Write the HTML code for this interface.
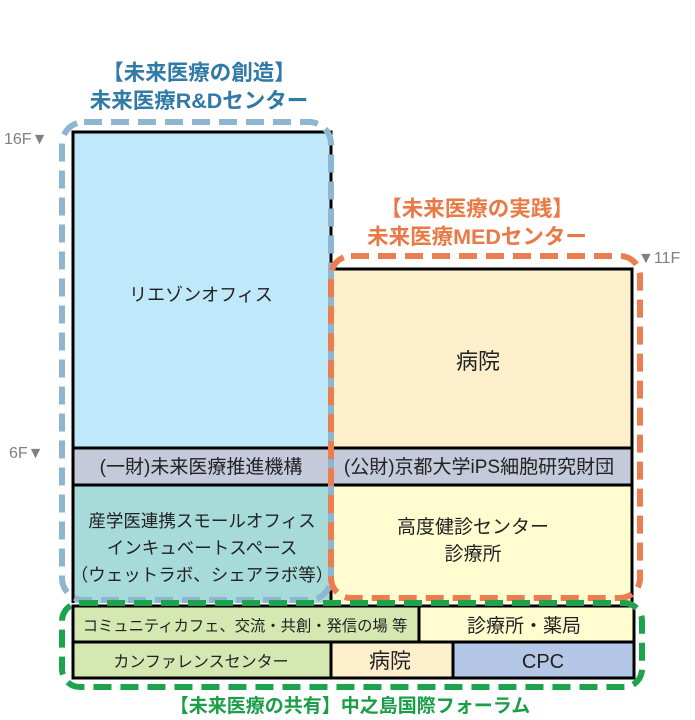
<!DOCTYPE html>
<html><head><meta charset="utf-8"><style>
html,body{margin:0;padding:0;background:#fff;}
svg{display:block;}
text{font-family:"Liberation Sans","Noto Sans CJK JP",sans-serif;}
</style></head><body>
<svg width="695" height="720" viewBox="0 0 695 720" xmlns="http://www.w3.org/2000/svg">
<rect x="73" y="132" width="258" height="316" fill="#bfe9fa"/>
<rect x="73" y="448" width="258" height="37" fill="#c5cadb"/>
<rect x="73" y="485" width="258" height="118" fill="#a7dbd9"/>
<rect x="331" y="269" width="301" height="179" fill="#fdefcc"/>
<rect x="331" y="448" width="301" height="37" fill="#c5cadb"/>
<rect x="331" y="485" width="301" height="118" fill="#fffdd0"/>
<rect x="73" y="606" width="346" height="36" fill="#d6e8b2"/>
<rect x="419" y="606" width="215" height="36" fill="#fffdd0"/>
<rect x="73" y="642" width="258" height="36" fill="#d6e8b2"/>
<rect x="331" y="642" width="122" height="36" fill="#fdefcc"/>
<rect x="453" y="642" width="181" height="36" fill="#b4c7e7"/>
<g stroke="#000" stroke-width="3" fill="none">
<path d="M73 603 V132 H331 V603"/>
<path d="M331 269 H632 V603"/>
<line x1="73" y1="448" x2="632" y2="448"/>
<line x1="73" y1="485" x2="632" y2="485"/>
<rect x="73" y="606" width="561" height="72"/>
<line x1="73" y1="642" x2="634" y2="642"/>
<line x1="419" y1="606" x2="419" y2="642"/>
<line x1="331" y1="642" x2="331" y2="678"/>
<line x1="453" y1="642" x2="453" y2="678"/>
</g>
<rect x="62" y="122" width="269" height="478" rx="22" fill="none" stroke="#8fb6d0" stroke-width="6" stroke-dasharray="18,9"/>
<rect x="331" y="256" width="309" height="342" rx="20" fill="none" stroke="#ea7e50" stroke-width="6" stroke-dasharray="18,9"/>
<rect x="62" y="603" width="580" height="84" rx="18" fill="none" stroke="#1ea34d" stroke-width="6" stroke-dasharray="18,9"/>
<g font-weight="bold" font-size="21.5" text-anchor="middle">
<text x="199" y="80" fill="#2f7aa6">【未来医療の創造】</text>
<text x="199" y="108" fill="#2f7aa6">未来医療R&amp;Dセンター</text>
<text x="477" y="216" fill="#ea7a45">【未来医療の実践】</text>
<text x="477" y="244" fill="#ea7a45">未来医療MEDセンター</text>
<text x="350" y="712" font-size="19" fill="#1a9e48">【未来医療の共有】中之島国際フォーラム</text>
</g>
<g font-size="16" fill="#808080">
<text x="4" y="144">16F▼</text>
<text x="9" y="458">6F▼</text>
<text x="638" y="263">▼11F</text>
</g>
<g font-size="19" fill="#222" text-anchor="middle">
<text x="201" y="301" font-size="18">リエゾンオフィス</text>
<text x="478" y="369" font-size="22">病院</text>
<text x="201" y="473">(一財)未来医療推進機構</text>
<text x="479" y="473">(公財)京都大学iPS細胞研究財団</text>
<text x="202" y="527" font-size="17.5">産学医連携スモールオフィス</text>
<text x="202" y="554" font-size="17.5">インキュベートスペース</text>
<text x="202" y="581" font-size="17.5">（ウェットラボ、シェアラボ等）</text>
<text x="473" y="533">高度健診センター</text>
<text x="473" y="560">診療所</text>
<text x="245" y="631" font-size="15.3">コミュニティカフェ、交流・共創・発信の場 等</text>
<text x="524" y="632">診療所・薬局</text>
<text x="201" y="667" font-size="16">カンファレンスセンター</text>
<text x="390" y="668" font-size="21">病院</text>
<text x="543" y="668" font-size="20">CPC</text>
</g>
</svg>
</body></html>
